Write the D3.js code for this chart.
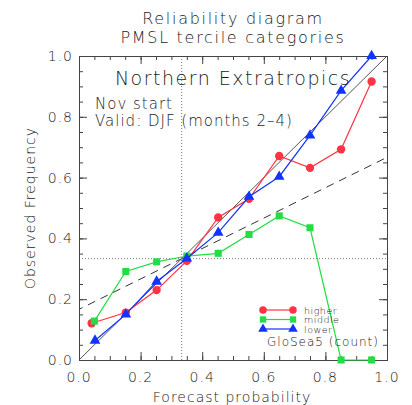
<!DOCTYPE html>
<html lang="en">
<head>
<meta charset="UTF-8">
<title>Reliability diagram</title>
<script src="https://d3js.org/d3.v7.min.js"></script>
<style>
  body { margin: 0; background: #fff; }
  text { font-family: 'DejaVu Sans', sans-serif; font-weight: 200; fill: #1a1a1a; letter-spacing: 1px; }
</style>
</head>
<body>
<div id="chart"></div>
<script>
// Forecast probability bins (mean forecast prob per bin)
const fcstHigher = [0.041, 0.152, 0.252, 0.350, 0.452, 0.552, 0.650, 0.750, 0.851, 0.950];
const obsHigher  = [0.121, 0.156, 0.230, 0.326, 0.469, 0.530, 0.671, 0.632, 0.693, 0.916];
const fcstMiddle = [0.050, 0.152, 0.252, 0.350, 0.452, 0.552, 0.650, 0.750, 0.851, 0.950];
const obsMiddle  = [0.128, 0.291, 0.323, 0.342, 0.351, 0.413, 0.474, 0.435, 0.0, 0.0];
const fcstLower  = [0.052, 0.152, 0.252, 0.350, 0.452, 0.552, 0.650, 0.750, 0.851, 0.950];
const obsLower   = [0.064, 0.150, 0.258, 0.334, 0.419, 0.537, 0.603, 0.739, 0.886, 1.0];
const tickLabels = ["0.0", "0.2", "0.4", "0.6", "0.8", "1.0"];
const climo = 1 / 3;

const W = 412, H = 405;
const margin = { top: 56, right: 25, bottom: 45, left: 79 };
const width = W - margin.left - margin.right;
const height = H - margin.top - margin.bottom;

const svg = d3.select("#chart").append("svg")
    .attr("width", W).attr("height", H);

const g = svg.append("g")
    .attr("transform", `translate(${margin.left},${margin.top})`);

const x = d3.scaleLinear().domain([0, 1]).range([0, width]);
const y = d3.scaleLinear().domain([0, 1]).range([height, 0]);

// titles
svg.append("text").attr("x", 233).attr("y", 24).attr("text-anchor", "middle")
    .style("font-size", "16px").style("letter-spacing", "1.7px").text("Reliability diagram");
svg.append("text").attr("x", 233).attr("y", 43).attr("text-anchor", "middle")
    .style("font-size", "16px").style("letter-spacing", "1.7px").text("PMSL tercile categories");

// reference lines
const line = d3.line().x(d => x(d[0])).y(d => y(d[1]));
g.append("path").datum([[0, 0], [1, 1]]).attr("d", line)
    .attr("stroke", "#555").attr("stroke-width", 1).attr("fill", "none");
g.append("path").datum([[0, climo / 2], [1, climo + (1 - climo) / 2]]).attr("d", line)
    .attr("stroke", "#333").attr("stroke-width", 1).attr("fill", "none")
    .attr("stroke-dasharray", "8,6").attr("stroke-dashoffset", 4);
g.append("path").datum([[climo, 0], [climo, 1]]).attr("d", line)
    .attr("stroke", "#777").attr("stroke-dasharray", "1,2").attr("fill", "none");
g.append("path").datum([[0, climo], [1, climo]]).attr("d", line)
    .attr("stroke", "#777").attr("stroke-dasharray", "1,2").attr("fill", "none");

// axes with inward ticks, mirrored on top/right
const minor = d3.range(0, 1.0001, 0.05);
const major = tickLabels.map(Number);
function addTicks(vals, len) {
    g.append("g").attr("transform", `translate(0,${height})`)
        .call(d3.axisBottom(x).tickValues(vals).tickSize(-len).tickFormat(""));
    g.append("g").call(d3.axisTop(x).tickValues(vals).tickSize(-len).tickFormat(""));
    g.append("g").call(d3.axisLeft(y).tickValues(vals).tickSize(-len).tickFormat(""));
    g.append("g").attr("transform", `translate(${width},0)`)
        .call(d3.axisRight(y).tickValues(vals).tickSize(-len).tickFormat(""));
}
addTicks(minor, 4);
addTicks(major, 8);
g.selectAll(".domain").attr("stroke", "#444");
g.selectAll(".tick line").attr("stroke", "#444");

// tick labels
g.selectAll(".xlab").data(tickLabels).join("text")
    .attr("x", d => x(+d)).attr("y", height + 22)
    .attr("text-anchor", "middle").style("font-size", "14px").text(d => d);
g.selectAll(".ylab").data(tickLabels).join("text")
    .attr("x", -6).attr("y", d => y(+d) + 5)
    .attr("text-anchor", "end").style("font-size", "14px").text(d => d);

svg.append("text").attr("x", margin.left + width / 2 - 1).attr("y", 402)
    .attr("text-anchor", "middle").style("font-size", "14px").text("Forecast probability");
svg.append("text").attr("transform", `translate(35,${margin.top + height / 2}) rotate(-90)`)
    .attr("text-anchor", "middle").style("font-size", "14px").text("Observed Frequency");

// annotations
svg.append("text").attr("x", 233).attr("y", 85).attr("text-anchor", "middle")
    .style("font-size", "19px").style("letter-spacing", "1.5px").text("Northern Extratropics");
svg.append("text").attr("x", 95).attr("y", 109).style("font-size", "15px").text("Nov start");
svg.append("text").attr("x", 95).attr("y", 126).style("font-size", "15px").text("Valid: DJF (months 2\u20134)");

// series
const series = [
    { name: "higher", fx: fcstHigher, oy: obsHigher, color: "#ff3344", symbol: d3.symbolCircle, size: 55 },
    { name: "middle", fx: fcstMiddle, oy: obsMiddle, color: "#22dd44", symbol: d3.symbolSquare, size: 50 },
    { name: "lower", fx: fcstLower, oy: obsLower, color: "#1133ff", symbol: d3.symbolTriangle, size: 50 }
];

series.forEach(s => {
    const pts = s.fx.map((v, i) => [v, s.oy[i]]);
    g.append("path").datum(pts).attr("d", line)
        .attr("fill", "none").attr("stroke", s.color).attr("stroke-width", 1.2);
    g.selectAll(null).data(pts).join("path")
        .attr("transform", d => `translate(${x(d[0])},${y(d[1])})`)
        .attr("d", d3.symbol().type(s.symbol).size(s.size))
        .attr("fill", s.color);
});

// legend
const leg = svg.append("g").attr("transform", "translate(263,310)");
series.forEach((s, i) => {
    const row = leg.append("g").attr("transform", `translate(0,${i * 9.5})`);
    row.append("line").attr("x1", 0).attr("x2", 30).attr("stroke", s.color).attr("stroke-width", 1.2);
    [0, 30].forEach(px => row.append("path")
        .attr("transform", `translate(${px},0)`)
        .attr("d", d3.symbol().type(s.symbol).size(s.size * 0.8))
        .attr("fill", s.color));
    row.append("text").attr("x", 41).attr("y", 3.5).style("font-size", "9.5px")
        .style("letter-spacing", "0.5px").text(s.name);
});
leg.append("text").attr("x", 4).attr("y", 36).style("font-size", "12px").text("GloSea5 (count)");
</script>
</body>
</html>
